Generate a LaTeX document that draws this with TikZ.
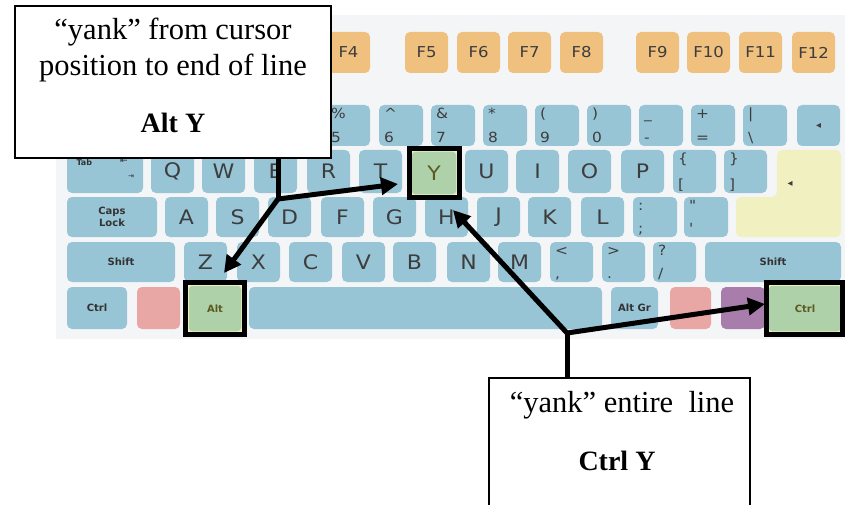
\documentclass[tikz,border=0pt]{standalone}
\usepackage{fontspec}
\setmainfont{Liberation Serif}
\newfontfamily\keyfont[FakeStretch=1.1]{DejaVu Sans}
\newfontfamily\symfont{DejaVu Sans}
\usetikzlibrary{arrows.meta}
\definecolor{kbbg}{HTML}{F4F5F7}
\definecolor{keyblue}{HTML}{98C5D6}
\definecolor{keyorange}{HTML}{EFC07E}
\definecolor{keygreen}{HTML}{AED1AA}
\definecolor{keyedge}{HTML}{F2F0BC}
\definecolor{keyred}{HTML}{E8A7A5}
\definecolor{keypurple}{HTML}{A97DAB}
\definecolor{keyyellow}{HTML}{F1F0C0}
\definecolor{keytext}{HTML}{3D3D3D}
\definecolor{greentext}{HTML}{5C5A22}
\tikzset{
  keyshape/.style={rounded corners=5pt, fill=keyblue, inner sep=0pt, text=keytext,
    font=\keyfont\fontsize{20}{20}\selectfont},
  fkey/.style={fill=keyorange, font=\keyfont\fontsize{15}{15}\selectfont},
  modkey/.style={font=\symfont\bfseries\fontsize{10}{12}\selectfont, align=center, text=black!80},
  greenkey/.style={fill=keygreen, draw=keyedge, line width=1.5pt, rounded corners=4pt,
    text=greentext, font=\symfont\bfseries\fontsize{10}{12}\selectfont},
  smalllab/.style={font=\keyfont\fontsize{14}{14}\selectfont, text=keytext, inner sep=0pt},
  hibox/.style={draw=black, line width=5pt, inner sep=0pt},
  callout/.style={draw=black, line width=2pt, fill=white, inner sep=0pt},
  ctext/.style={font=\fontsize{30.5}{36}\selectfont, inner sep=0pt},
  ctextb/.style={font=\bfseries\fontsize{28}{32}\selectfont, inner sep=0pt},
  stem/.style={line width=5pt, line join=round},
  conn/.style={line width=5pt, line join=round, -{Triangle[length=17pt,width=17pt]}}
}
\newcommand\keyat[7]{%
  \pgfmathsetmacro\kw{#3-#1}\pgfmathsetmacro\kh{#4-#2}%
  \pgfmathsetmacro\kx{(#1+#3)/2}\pgfmathsetmacro\ky{(#2+#4)/2}%
  \node[keyshape,#5,minimum width=\kw pt,minimum height=\kh pt] (#6) at (\kx,\ky) {#7};}
\newcommand\twolab[3]{%
  \node[smalllab,anchor=base west] (#1t) at ([xshift=5pt,yshift=-14pt]#1.north west) {#2};
  \node[smalllab,anchor=base west] (#1b) at ([xshift=5pt,yshift=4pt]#1.south west) {#3};}
\begin{document}
\begin{tikzpicture}[x=1pt,y=-1pt]
\useasboundingbox (0,0) rectangle (845,505);
\fill[white] (0,0) rectangle (845,505);
% keyboard background
\fill[kbbg] (56,15) rectangle (845,339);
% function row
\keyat{327}{32}{370}{73}{fkey}{F4}{F4}
\keyat{405}{32}{448}{73}{fkey}{F5}{F5}
\keyat{457}{32}{500}{73}{fkey}{F6}{F6}
\keyat{508}{32}{551}{73}{fkey}{F7}{F7}
\keyat{560}{32}{603}{73}{fkey}{F8}{F8}
\keyat{636}{32}{679}{73}{fkey}{F9}{F9}
\keyat{687}{32}{730}{73}{fkey}{F10}{F10}
\keyat{739}{32}{782}{73}{fkey}{F11}{F11}
\keyat{792}{32}{835}{73}{fkey}{F12}{F12}
% number row
\keyat{326}{105}{370}{146}{}{nA}{}\twolab{nA}{\%}{5}
\keyat{379}{105}{423}{146}{}{nB}{}\twolab{nB}{\textasciicircum}{6}
\keyat{431}{105}{475}{146}{}{nC}{}\twolab{nC}{\&}{7}
\keyat{483}{105}{527}{146}{}{nD}{}\twolab{nD}{*}{8}
\keyat{535}{105}{579}{146}{}{nE}{}\twolab{nE}{(}{9}
\keyat{587}{105}{631}{146}{}{nF}{}\twolab{nF}{)}{0}
\keyat{639}{105}{683}{146}{}{nG}{}\twolab{nG}{\_}{-}
\keyat{691}{105}{735}{146}{}{nH}{}\twolab{nH}{+}{=}
\keyat{743}{105}{787}{146}{}{nI}{}\twolab{nI}{|}{\textbackslash}
\keyat{797}{105}{840}{146}{}{bksp}{\symfont\fontsize{10}{10}\selectfont ◂}
% qwerty row
\keyat{67}{150}{143}{193}{}{tab}{}
\node[modkey,anchor=base west,font=\symfont\bfseries\fontsize{8}{8}\selectfont] (tabl) at (73,166) {Tab};
\node[modkey,font=\symfont\fontsize{9}{9}\selectfont] (tabu) at (124,161) {⇤};
\node[modkey,font=\symfont\fontsize{7}{7}\selectfont] (tabd) at (131,177) {⇥};
\foreach \xx/\l in {151/Q,202/W,254/E,307/R,359/T,465/U,516/I,568/O,621/P}
  {\keyat{\xx}{150}{\xx+43}{193}{}{k\l}{\l}}
\keyat{673}{150}{716}{193}{}{lbr}{}\twolab{lbr}{\{}{[}
\keyat{724}{150}{767}{193}{}{rbr}{}\twolab{rbr}{\}}{]}
% enter key
\path[fill=keyyellow, rounded corners=5pt] (777,150) -- (841,150) -- (841,237) -- (736,237) -- (736,197) -- (777,197) -- cycle;
\node[font=\symfont\fontsize{10}{10}\selectfont, text=keytext] (entl) at (790,184) {◂};
% home row
\keyat{67}{197}{157}{237}{modkey}{caps}{Caps\\Lock}
\foreach \xx/\l in {165/A,216/S,268/D,321/F,373/G,425/H,477/J,528/K,581/L}
  {\keyat{\xx}{197}{\xx+43}{237}{}{k\l}{\l}}
\keyat{633}{197}{677}{237}{}{semi}{}\twolab{semi}{:}{;}
\keyat{684}{197}{728}{237}{}{quot}{}\twolab{quot}{"}{\textquotesingle}
% bottom letter row
\keyat{67}{242}{175}{282}{modkey}{lshift}{Shift}
\foreach \xx/\l in {184/Z,237/X,289/C,342/V,393/B,447/N,498/M}
  {\keyat{\xx}{242}{\xx+43}{282}{}{k\l}{\l}}
\keyat{550}{242}{593}{282}{}{comma}{}\twolab{comma}{<}{,}
\keyat{602}{242}{645}{282}{}{period}{}\twolab{period}{>}{.}
\keyat{653}{242}{696}{282}{}{slash}{}\twolab{slash}{?}{/}
\keyat{705}{242}{841}{282}{modkey}{rshift}{Shift}
% space row
\keyat{67}{287}{127}{329}{modkey}{lctrl}{Ctrl}
\keyat{137}{287}{180}{329}{fill=keyred}{lwin}{}
\keyat{249}{287}{602}{329}{}{space}{}
\keyat{611}{287}{658}{329}{modkey}{altgr}{Alt Gr}
\keyat{670}{287}{711}{329}{fill=keyred}{rwin}{}
\keyat{721}{287}{765}{329}{fill=keypurple}{menu}{}
% highlighted keys
\keyat{411}{151}{457}{195}{greenkey,font=\keyfont\fontsize{20}{20}\selectfont}{kY}{Y}
\keyat{188}{285}{242}{332}{greenkey}{lalt}{Alt}
\keyat{768}{285}{842}{332}{greenkey}{rctrl}{Ctrl}
\node[hibox,minimum width=50pt,minimum height=49pt] (hY) at (434.5,173) {};
\node[hibox,minimum width=59pt,minimum height=52pt] (hAlt) at (215,308.5) {};
\node[hibox,minimum width=76pt,minimum height=52pt] (hCtrl) at (804.5,308.5) {};
% callout 1
\node[callout,minimum width=316pt,minimum height=152pt] (co1) at (173,82) {};
\node[ctext,anchor=base] (t1a) at (173,40) {“yank” from cursor};
\node[ctext,anchor=base] (t1b) at (173,76) {position to end of line};
\node[ctextb,anchor=base] (t1c) at (173,133) {Alt Y};
% callout 2
\node[callout,minimum width=261pt,minimum height=150pt] (co2) at (619.5,453) {};
\node[ctext,anchor=base] (t2a) at (622,412) {“yank” entire\ \ line};
\node[ctextb,anchor=base] (t2b) at (617,470) {Ctrl Y};
% connectors
\coordinate (jL) at (278,199);
\coordinate (jR) at (567,333);
\coordinate (tipY) at (398,184);
\coordinate (tipAlt) at (224,273);
\coordinate (tipH) at (453,210);
\coordinate (tipC) at (765,304);
\draw[stem] (co1.south -| jL) -- (jL);
\draw[conn] (jL) -- (tipY);
\draw[conn] (jL) -- (tipAlt);
\draw[stem] (co2.north -| jR) -- (jR);
\draw[conn] (jR) -- (tipH);
\draw[conn] (jR) -- (tipC);
\end{tikzpicture}
\end{document}
